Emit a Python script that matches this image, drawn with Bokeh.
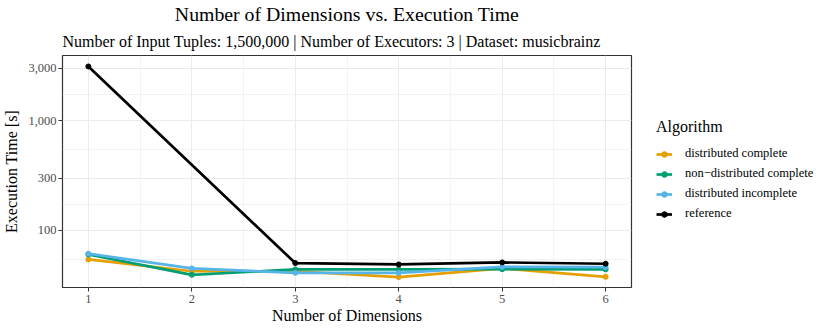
from bokeh.plotting import figure
from bokeh.models import (Title, Legend, LegendItem, FixedTicker, NumeralTickFormatter,
                          Range1d, ColumnDataSource)
from bokeh.embed import file_html
from bokeh.resources import INLINE

# ---- data ----
dimensions = [1, 2, 3, 4, 5, 6]
dist_complete = [54.5, 42.6, 42.6, 37.7, 45.2, 37.9]
nondist_complete = [60.5, 39.5, 44.2, 44.3, 44.5, 44.3]
dist_incomplete = [61.5, 45.2, 41.2, 41.2, 46.6, 46.4]
ref_dimensions = [1, 3, 4, 5, 6]
reference = [3100, 50.5, 49.1, 51.2, 49.8]

series_names = ["distributed complete", "non\u2212distributed complete",
                "distributed incomplete", "reference"]
series_colors = ["#E69F00", "#009E73", "#56B4E9", "#000000"]

y_ticks = [100, 300, 1000, 3000]
y_minor = [54.77, 173.2, 547.7, 1732.1]
x_ticks = [1, 2, 3, 4, 5, 6]
x_minor = [1.5, 2.5, 3.5, 4.5, 5.5]

FONT = "Liberation Serif"

p = figure(frame_width=569, frame_height=232, y_axis_type="log",
           x_range=Range1d(0.75, 6.25), y_range=Range1d(30.3, 3900),
           output_backend="svg", toolbar_location=None,
           min_border_left=54, min_border_right=191, min_border_top=55, min_border_bottom=40)
p.background_fill_color = "white"
p.border_fill_color = "white"
p.outline_line_color = "#333333"
p.outline_line_width = 1.2

# axes
p.xaxis.ticker = FixedTicker(ticks=x_ticks, minor_ticks=x_minor)
p.yaxis.ticker = FixedTicker(ticks=y_ticks, minor_ticks=y_minor)
p.yaxis.formatter = NumeralTickFormatter(format="0,0")
for ax in (p.xaxis[0], p.yaxis[0]):
    ax.axis_line_color = None
    ax.major_tick_line_color = "#333333"
    ax.major_tick_out = 4
    ax.major_tick_in = 0
    ax.minor_tick_line_color = None
    ax.major_label_text_font = FONT
    ax.major_label_text_font_size = "12.5px"
    ax.major_label_text_color = "#4D4D4D"
    ax.axis_label_text_font = FONT
    ax.axis_label_text_font_size = "16px"
    ax.axis_label_text_font_style = "normal"
    ax.axis_label_text_color = "black"
p.xaxis.axis_label = "Number of Dimensions"
p.yaxis.axis_label = "Execution Time [s]"
p.xaxis.major_label_standoff = 3
p.yaxis.major_label_standoff = 2
p.xaxis.axis_label_standoff = 1
p.yaxis.axis_label_standoff = 5

for g in (p.xgrid[0], p.ygrid[0]):
    g.grid_line_color = "#EBEBEB"
    g.grid_line_width = 1.1
    g.minor_grid_line_color = "#EBEBEB"
    g.minor_grid_line_width = 0.6

# series
xs_list = [dimensions, dimensions, dimensions, ref_dimensions]
ys_list = [dist_complete, nondist_complete, dist_incomplete, reference]
items = []
for name, color, xs, ys in zip(series_names, series_colors, xs_list, ys_list):
    src = ColumnDataSource(dict(x=xs, y=ys))
    ln = p.line("x", "y", source=src, line_color=color, line_width=2.7)
    sc = p.scatter("x", "y", source=src, size=5, fill_color=color, line_color=color)
    items.append(LegendItem(label=name, renderers=[ln, sc]))

legend = Legend(items=items, location=(25, 66), title="Algorithm",
                title_text_font=FONT, title_text_font_size="16px", title_text_font_style="normal",
                title_text_color="black", title_standoff=10,
                label_text_font=FONT, label_text_font_size="12.5px", label_text_color="black",
                glyph_width=16, glyph_height=14, label_height=14, label_standoff=13,
                spacing=5, padding=0, margin=0,
                border_line_color=None, background_fill_alpha=0)
p.add_layout(legend, "right")

# titles
p.add_layout(Title(text="Number of Input Tuples: 1,500,000 | Number of Executors: 3 | Dataset: musicbrainz",
                   text_font=FONT, text_font_size="16px", text_font_style="normal",
                   text_color="black", align="left", offset=0, standoff=12), "above")
p.add_layout(Title(text="Number of Dimensions vs. Execution Time",
                   text_font=FONT, text_font_size="19.8px", text_font_style="normal",
                   text_color="black", align="center", standoff=0), "above")

open("out.html", "w").write(file_html(p, INLINE))
